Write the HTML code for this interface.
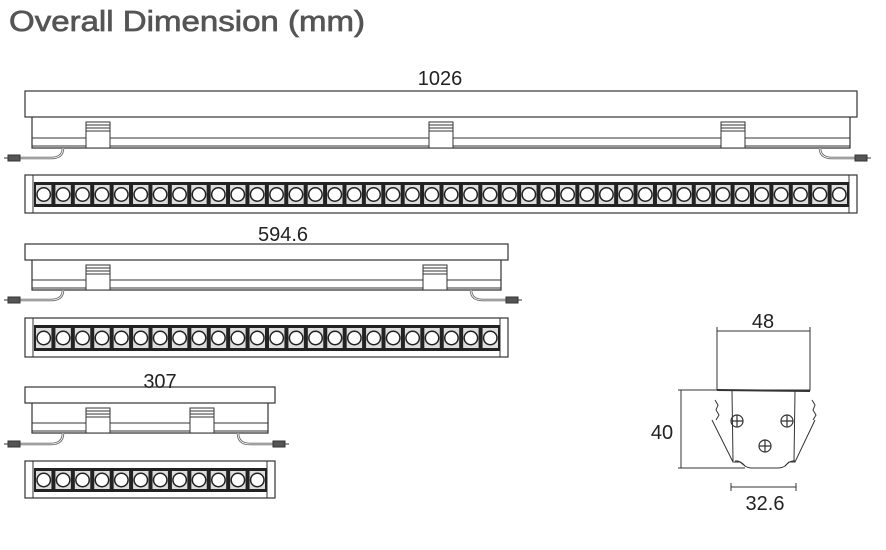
<!DOCTYPE html>
<html><head><meta charset="utf-8"><style>
html,body{margin:0;padding:0;background:#fff;width:886px;height:550px;overflow:hidden}
svg{display:block}
text{font-family:"Liberation Sans",sans-serif;fill:#222}
</style></head><body>
<svg id="s" width="886" height="550" viewBox="0 0 886 550" xmlns="http://www.w3.org/2000/svg" stroke="#333" fill="none" stroke-width="1">
<text x="9" y="31" font-size="29" stroke="#555" stroke-width="0.7" textLength="356" lengthAdjust="spacingAndGlyphs" style="fill:#555">Overall Dimension (mm)</text>
<text x="440" y="85" font-size="20" stroke="none" text-anchor="middle">1026</text>
<text x="283" y="241" font-size="20" stroke="none" text-anchor="middle">594.6</text>
<text x="160" y="388" font-size="20" stroke="none" text-anchor="middle">307</text>
<g id="g"></g>
<!-- cross section -->
<line x1="717" y1="331" x2="810" y2="331"/>
<line x1="717" y1="327" x2="717" y2="335"/><line x1="810" y1="327" x2="810" y2="335"/>
<text x="763" y="328" font-size="20" stroke="none" text-anchor="middle">48</text>
<rect x="717" y="331" width="93" height="59"/>
<line x1="717" y1="390" x2="810" y2="391" stroke-width="2"/>
<line x1="678" y1="390" x2="717" y2="390"/>
<line x1="681" y1="390" x2="681" y2="468"/>
<line x1="678" y1="468" x2="745" y2="468"/>
<text x="662" y="439" font-size="20" stroke="none" text-anchor="middle">40</text>
<line x1="732" y1="391" x2="733" y2="461"/><line x1="795" y1="391" x2="794" y2="461"/>
<path d="M715 400 l3 5 -2 5 3 5 -3 5 M712 420 L733 462 L740 462 L745 466 Q748 468 752 468 L778 468 Q782 468 785 466 L789 462 L795 462 L815 420 M812 400 l3 5 -2 5 3 5 -3 5"/>
<path d="M745 466 Q740 460 735 461 M785 466 Q790 460 795 461"/>
<g stroke-width="1.2">
<circle cx="737" cy="421" r="6"/><path d="M731 421h12M737 415v12"/>
<circle cx="787" cy="421" r="6"/><path d="M781 421h12M787 415v12"/>
<circle cx="765" cy="446" r="6"/><path d="M759 446h12M765 440v12"/>
</g>
<line x1="731" y1="487" x2="796" y2="487"/>
<line x1="731" y1="483" x2="731" y2="491"/><line x1="796" y1="483" x2="796" y2="491"/>
<text x="765" y="510" font-size="20" stroke="none" text-anchor="middle">32.6</text>
</svg>
<script>
var g=document.getElementById('g'),h='';
function conn(x,y,dir){
  if(dir<0){h+='<rect x="'+(x-12)+'" y="'+(y-3)+'" width="12" height="6" fill="#555"/><line x1="'+(x-16)+'" y1="'+y+'" x2="'+(x-12)+'" y2="'+y+'"/>';}
  else{h+='<rect x="'+x+'" y="'+(y-3)+'" width="12" height="6" fill="#555"/><line x1="'+(x+12)+'" y1="'+y+'" x2="'+(x+16)+'" y2="'+y+'"/>';}
}
function bar(x1,x2,yt,yb1,yb2,clips,ycab){
  h+='<rect x="'+x1+'" y="'+yt+'" width="'+(x2-x1)+'" height="'+(yb1-yt)+'" stroke-width="1.2"/>';
  h+='<path d="M'+(x1+7)+' '+yb1+' V'+yb2+' H'+(x2-7)+' V'+yb1+'" stroke-width="1.2"/>';
  h+='<line x1="'+(x1+7)+'" y1="'+(yb2-10)+'" x2="'+(x2-7)+'" y2="'+(yb2-10)+'"/>';
  h+='<line x1="'+(x1+7)+'" y1="'+(yb2-2)+'" x2="'+(x2-7)+'" y2="'+(yb2-2)+'"/>';
  clips.forEach(function(c){h+='<rect x="'+c+'" y="'+(yb1+5)+'" width="24" height="'+(yb2-yb1-5)+'" fill="#fff"/>';
   for(var i=0;i<3;i++)h+='<line x1="'+c+'" y1="'+(yb1+8+i*3)+'" x2="'+(c+24)+'" y2="'+(yb1+8+i*3)+'"/>';});
  h+='<path d="M'+(x1+38)+' '+yb2+' Q'+(x1+38)+' '+ycab+' '+(x1+26)+' '+ycab+' H'+(x1-5)+'" stroke="#666" stroke-width="2.5"/>';
  h+='<path d="M'+(x1+38)+' '+yb2+' Q'+(x1+38)+' '+ycab+' '+(x1+26)+' '+ycab+' H'+(x1-5)+'" stroke="#fff" stroke-width="0.8"/>';
  conn(x1-5,ycab,-1);
  h+='<path d="M'+(x2-37)+' '+yb2+' Q'+(x2-37)+' '+ycab+' '+(x2-25)+' '+ycab+' H'+(x2-2)+'" stroke="#666" stroke-width="2.5"/>';
  h+='<path d="M'+(x2-37)+' '+yb2+' Q'+(x2-37)+' '+ycab+' '+(x2-25)+' '+ycab+' H'+(x2-2)+'" stroke="#fff" stroke-width="0.8"/>';
  conn(x2-2,ycab,1);
}
function strip(x1,x2,y1,y2,n,xs,xe){
  h+='<rect x="'+x1+'" y="'+y1+'" width="'+(x2-x1)+'" height="'+(y2-y1)+'" stroke-width="1.2"/>';
  h+='<line x1="'+(x1+8)+'" y1="'+y1+'" x2="'+(x1+8)+'" y2="'+y2+'"/>';
  h+='<line x1="'+(x2-8)+'" y1="'+y1+'" x2="'+(x2-8)+'" y2="'+y2+'"/>';
  var top=y1+7,bot=y2-6;
  h+='<rect x="'+xs+'" y="'+top+'" width="'+(xe-xs)+'" height="'+(bot-top)+'" fill="#222" stroke="none"/>';
  var w=(xe-xs)/n,cy=(top+bot)/2;
  for(var i=0;i<n;i++){var cx=xs+w*i+w/2;
    h+='<rect x="'+(cx-w/2+2)+'" y="'+(top+3)+'" width="'+(w-4)+'" height="'+(bot-top-6)+'" fill="#ddd" stroke="none"/>';
    h+='<circle cx="'+cx+'" cy="'+cy+'" r="'+(w/2-3)+'" fill="#fff" stroke="#222" stroke-width="1.5"/>';}
}
bar(25,857,91,117,148,[86,429,721],158);
strip(25,857,175,213,42,34,849);
bar(25,508,244,260,290,[86,423],300);
strip(25,508,318,357,24,34,500);
bar(25,275,387,403,433,[86,190],444);
strip(25,275,461,498,12,34,267);
g.innerHTML=h;
</script>
</body></html>
